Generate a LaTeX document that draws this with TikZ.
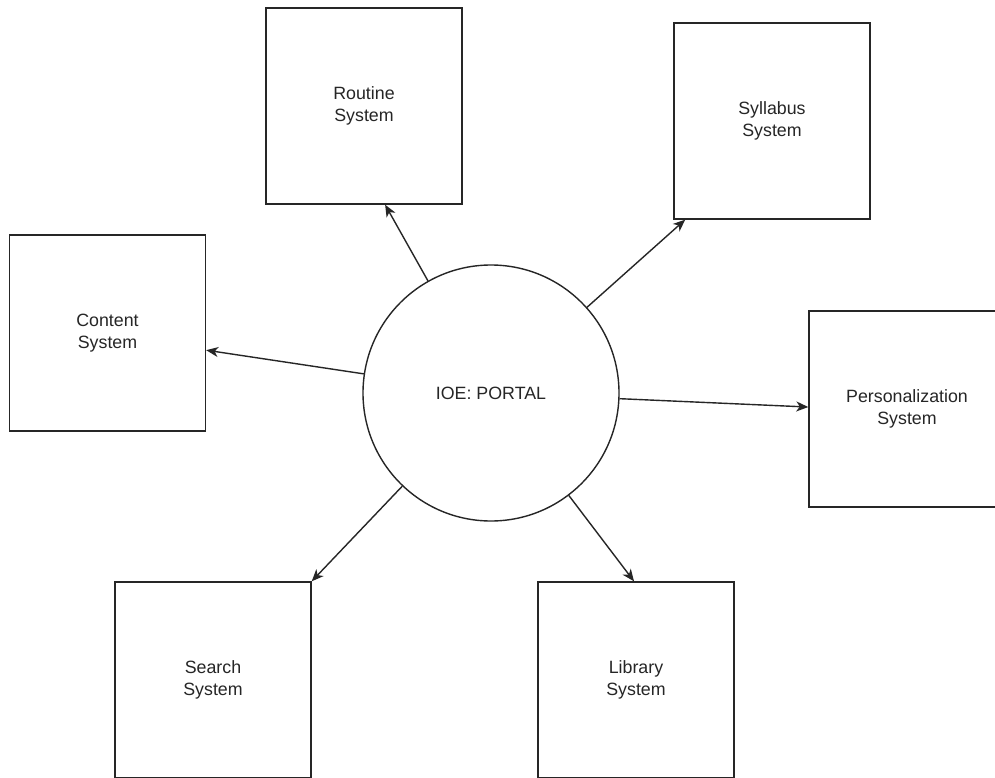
\documentclass[tikz,border=0pt]{standalone}
\usepackage{fontspec}
\setmainfont{Liberation Sans}
\usetikzlibrary{arrows.meta,calc}
\begin{document}
\begin{tikzpicture}[x=1pt,y=-1pt,
  sysbox/.style={draw=black!85, line width=1.4pt, fill=white, minimum width=196pt, minimum height=196pt, inner sep=0pt, align=center, font=\fontsize{17.8}{22}\selectfont, text=black!85},
  hub/.style={draw=black!85, line width=1.4pt, circle, minimum size=256pt, inner sep=0pt, align=center, font=\fontsize{17.8}{22}\selectfont, text=black!85},
  link/.style={draw=black!85, line width=1.4pt, -{Stealth[length=12pt, width=10pt, inset=3.5pt]}}]
\clip (0,0) rectangle (995,778);
\fill[white] (0,0) rectangle (995,778);
\node[sysbox] (routine) at (364,106) {\raisebox{-2pt}{\begin{tabular}{@{}c@{}}Routine\\System\end{tabular}}};
\node[sysbox] (syllabus) at (772,121) {\raisebox{-2pt}{\begin{tabular}{@{}c@{}}Syllabus\\System\end{tabular}}};
\node[sysbox] (content) at (107.5,333) {\raisebox{-2pt}{\begin{tabular}{@{}c@{}}Content\\System\end{tabular}}};
\node[sysbox] (personal) at (907,409) {Personalization\\System};
\node[sysbox] (search) at (213,680) {Search\\System};
\node[sysbox] (library) at (636,680) {Library\\System};
\node[hub] (portal) at (491,393) {IOE: PORTAL};
\coordinate (tR) at ($(routine.south west)!0.607!(routine.south east)$);
\coordinate (tY) at ($(syllabus.south west)!0.06!(syllabus.south east)$);
\coordinate (tC) at ($(content.north east)!0.587!(content.south east)$);
\coordinate (tP) at ($(personal.north west)!0.49!(personal.south west)$);
\coordinate (tL) at ($(library.north west)!0.49!(library.north east)$);
\draw[link] (portal) -- (tR);
\draw[link] (portal) -- (tY);
\draw[link] (portal) -- (tC);
\draw[link] (portal) -- (tP);
\draw[link] (portal) -- (search.north east);
\draw[link] (portal) -- (tL);
\end{tikzpicture}
\end{document}
